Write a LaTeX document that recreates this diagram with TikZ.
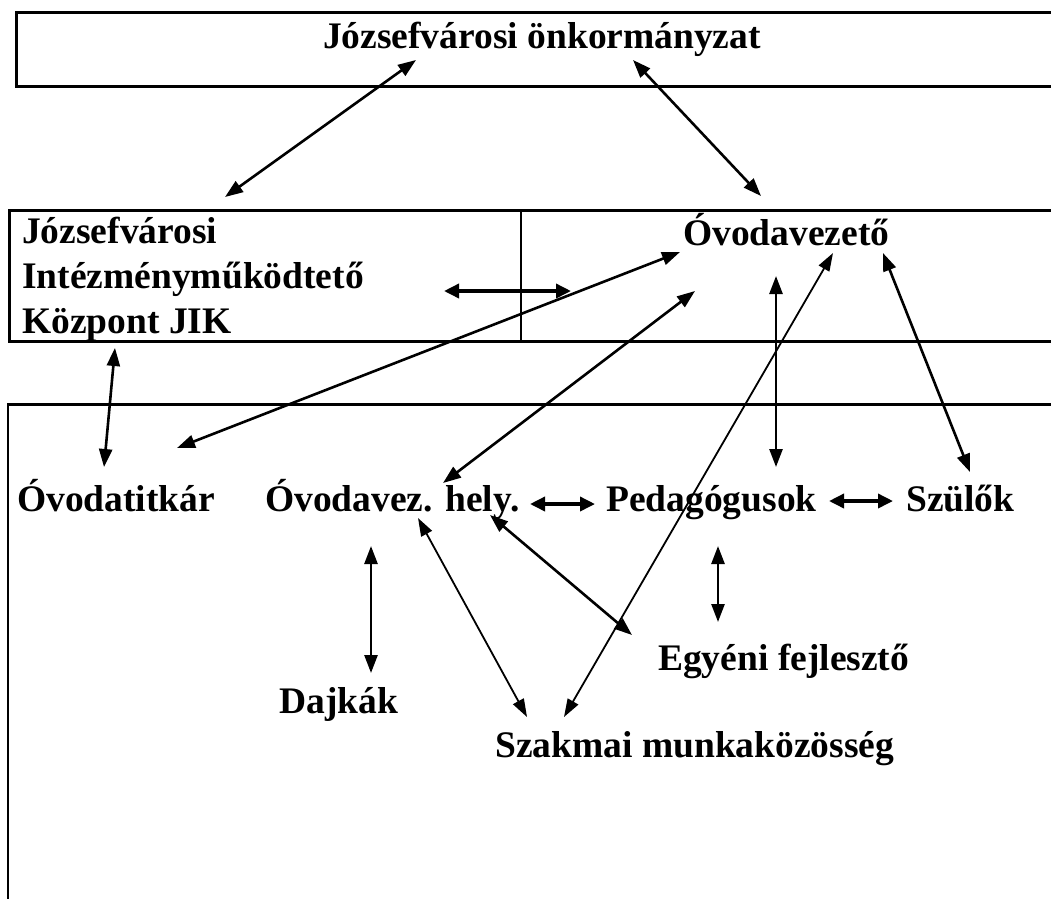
\documentclass[tikz,border=0pt]{standalone}
\usepackage{fontspec}
\setmainfont{Liberation Serif}
\usetikzlibrary{arrows.meta}
\begin{document}
\begin{tikzpicture}[x=1pt,y=-1pt,
  lbl/.style={inner sep=0pt,font=\fontsize{37.5}{45}\selectfont\bfseries},
  frame/.style={line width=3pt,line cap=rect},
  thinframe/.style={line width=1.5pt},
  biarrow/.style={line width=2.6pt,{Triangle[length=18pt,width=13pt]}-{Triangle[length=18pt,width=13pt]}},
  thinarrow/.style={line width=1.8pt,{Triangle[length=18pt,width=12pt]}-{Triangle[length=18pt,width=12pt]}},
  hbiarrow/.style={line width=3.5pt,{Triangle[length=15pt,width=14pt]}-{Triangle[length=15pt,width=14pt]}}]
\useasboundingbox (0,0) rectangle (1051,898);
% boxes
\draw[frame] (1060,12) -- (16,12) -- (16,86) -- (1060,86);
\draw[frame] (1060,210) -- (9,210) -- (9,341) -- (1060,341);
\draw[thinframe] (521,210) -- (521,341);
\draw[frame] (1060,404) -- (8,404);
\draw[line width=2pt] (8,404) -- (8,910);
% texts
\node[lbl,anchor=base] (onk) at (542,48) {Józsefvárosi önkormányzat};
\node[lbl,anchor=base west] (jik1) at (22,243) {Józsefvárosi};
\node[lbl,anchor=base west] (jik2) at (22,288) {Intézményműködtető};
\node[lbl,anchor=base west] (jik3) at (22,333) {Központ JIK};
\node[lbl,anchor=base west] (ovez) at (683,245) {Óvodavezető};
\node[lbl,anchor=base west] (titkar) at (17,511) {Óvodatitkár};
\node[lbl,anchor=base west] (hely) at (265,511) {Óvodavez. hely.};
\node[lbl,anchor=base west] (ped) at (606,511) {Pedagógusok};
\node[lbl,anchor=base west] (szulok) at (906,511) {Szülők};
\node[lbl,anchor=base west] (egyeni) at (658,670) {Egyéni fejlesztő};
\node[lbl,anchor=base west] (dajkak) at (279,713) {Dajkák};
\node[lbl,anchor=base west] (szakmai) at (495,757) {Szakmai munkaközösség};
% connector end points
\coordinate (onkL) at (416,60);
\coordinate (onkR) at (633,60);
\coordinate (jikT) at (225,197);
\coordinate (ovezT) at (761,196);
\coordinate (jikE) at (444,291);
\coordinate (ovezW) at (571,291);
\coordinate (ovezA) at (680,252);
\coordinate (titkarA) at (177,448);
\coordinate (ovezB) at (695,291);
\coordinate (helyA) at (443,483);
\coordinate (ovezC) at (776,276);
\coordinate (pedA) at (776,467);
\coordinate (ovezD) at (833,253);
\coordinate (szakA) at (564,717);
\coordinate (ovezE) at (883,253);
\coordinate (szulA) at (970,472);
\coordinate (jikB) at (115,348);
\coordinate (titkarB) at (104,467);
\coordinate (helyE) at (530,504);
\coordinate (pedW) at (595,504);
\coordinate (pedE) at (829,501);
\coordinate (szulW) at (893,501);
\coordinate (helyD1) at (371,546);
\coordinate (dajkA) at (371,673);
\coordinate (helyB) at (418,518);
\coordinate (szakB) at (527,717);
\coordinate (helyC) at (490,515);
\coordinate (egyA) at (632,635);
\coordinate (pedB) at (718,546);
\coordinate (egyB) at (718,622);
% connectors
\draw[biarrow] (onkL) -- (jikT);
\draw[biarrow] (onkR) -- (ovezT);
\draw[hbiarrow] (jikE) -- (ovezW);
\draw[biarrow] (ovezA) -- (titkarA);
\draw[biarrow] (ovezB) -- (helyA);
\draw[biarrow] (ovezC) -- (pedA);
\draw[thinarrow] (ovezD) -- (szakA);
\draw[biarrow] (ovezE) -- (szulA);
\draw[biarrow] (jikB) -- (titkarB);
\draw[hbiarrow] (helyE) -- (pedW);
\draw[hbiarrow] (pedE) -- (szulW);
\draw[biarrow] (helyD1) -- (dajkA);
\draw[thinarrow] (helyB) -- (szakB);
\draw[biarrow] (helyC) -- (egyA);
\draw[biarrow] (pedB) -- (egyB);
\end{tikzpicture}
\end{document}
